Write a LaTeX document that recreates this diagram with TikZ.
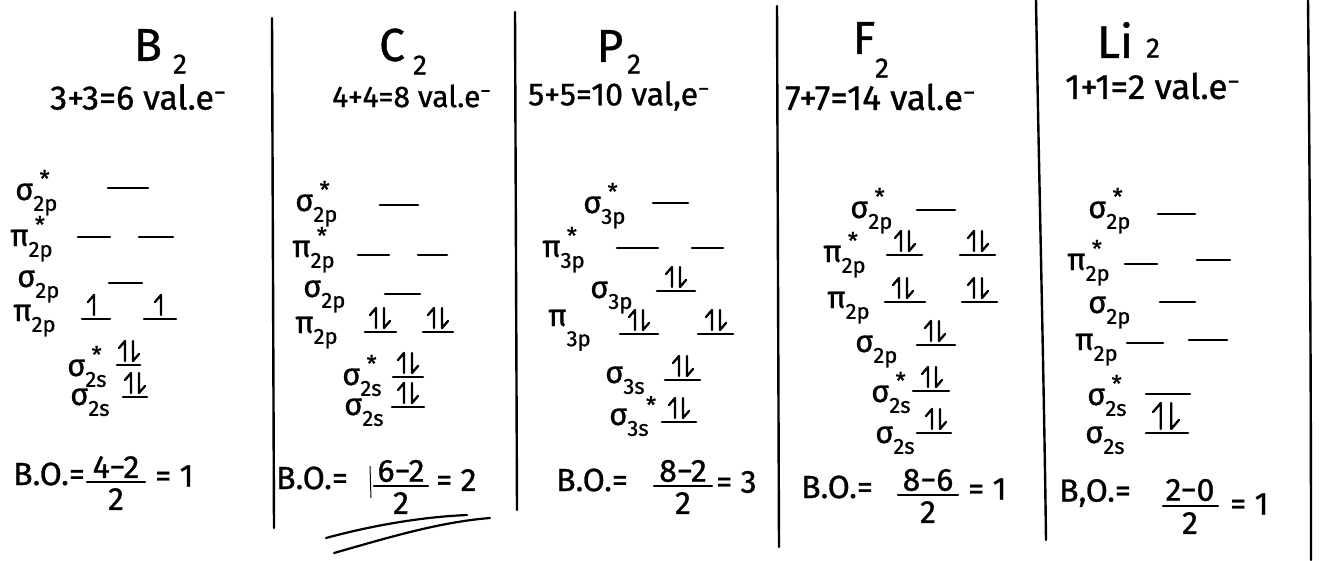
\documentclass[tikz,border=0pt]{standalone}
\usepackage{fontspec}
\setmainfont{Fira Sans}[UprightFeatures={FakeBold=0.9}]
\tikzset{
  lvl/.style={line width=2.6pt, line cap=round},
  elw/.style={line width=2.3pt, line cap=round, line join=round},
  sepline/.style={line width=2.4pt, line cap=round},
  ttl/.style={inner sep=0pt, font=\fontsize{46}{48}\selectfont},
  tsub/.style={inner sep=0pt, font=\fontsize{28}{30}\selectfont},
  val/.style={inner sep=0pt, anchor=west},
  lab/.style={inner sep=0pt, anchor=base west, font=\fontsize{31}{33}\selectfont},
  bo/.style={inner sep=0pt, font=\fontsize{32}{34}\selectfont},
  pair/.pic={
    \draw[elw] (-4,10) -- (-4,-10) -- (-10,-3);
    \draw[elw] (4,-10) -- (4,10) -- (10,3);
  },
  single/.pic={
    \draw[elw] (0,10) -- (0,-10) -- (-6,-3);
  },
}
\newcommand\myorb[3]{#1\makebox[0pt][l]{\hspace{0.2em}\raisebox{0.42em}{\fontsize{23}{23}\selectfont #2}}\raisebox{-0.35em}{\fontsize{22}{22}\selectfont #3}}
\newcommand\mylab[4]{\node[lab] (#1) at (#2,#3) {#4};}
\newcommand\mylev[3]{\draw[lvl] (#1,#3) -- (#2,#3);}
\newcommand\mypair[2]{\pic at (#1,#2-14) {pair};}
\newcommand\mysingle[2]{\pic at (#1,#2-14) {single};}
\newcommand\mybo[9]{%
  % #1 name, #2 text left x, #3 text y, #4 fraction centre x, #5 numerator, #6 bar y, #7 half bar width, #8 result, #9 result left x
  \node[bo, anchor=west] (#1a) at (#2,#3) {B.O.=};
  \node[bo] (#1n) at (#4,#6-15) {#5};
  \draw[lvl, line width=2.2pt] (#4-#7,#6) -- (#4+#7,#6);
  \node[bo] (#1d) at (#4,#6+17) {2};
  \node[bo, anchor=west] (#1r) at (#9,#3+2) {= #8};
}
\begin{document}
\begin{tikzpicture}[x=1pt,y=-1pt]
\useasboundingbox (0,0) rectangle (1319,560);
\fill[white] (0,0) rectangle (1319,560);

% separators
\draw[sepline] (272,18) -- (274,528);
\draw[sepline] (515,12) -- (517,510);
\draw[sepline] (777,6) -- (779,547);
\draw[sepline] (1036,0) .. controls (1039,180) and (1044,380) .. (1046,540);
\draw[sepline] (1308,0) .. controls (1310,200) and (1311,400) .. (1311,560);

% ---------------- B2 ----------------
\node[ttl] (B) at (148,45) {B};
\node[tsub] (B2) at (180,64) {2};
\node[val] (Bval) at (50,97) {\fontsize{34}{36}\selectfont 3+3=6 val.e\textsuperscript{−}};
\mylab{Bl1}{15}{200}{\myorb{σ}{*}{2p}}
\mylev{108}{148}{188}
\mylab{Bl2}{10}{246}{\myorb{π}{*}{2p}}
\mylev{78}{110}{237} \mylev{139}{173}{237}
\mylab{Bl3}{17}{287}{\myorb{σ}{}{2p}}
\mylev{109}{142}{283}
\mylab{Bl4}{13}{321}{\myorb{π}{}{2p}}
\mylev{82}{110}{319} \mylev{144}{176}{319}
\mysingle{94}{319} \mysingle{161}{319}
\mylab{Bl5}{67}{376}{\myorb{σ}{*}{2s}}
\mylev{117}{140}{365}
\mypair{129}{365}
\mylab{Bl6}{70}{405}{\myorb{σ}{}{2s}}
\mylev{123}{147}{397}
\mypair{135}{397}
\mybo{Bbo}{13}{474}{116}{4−2}{482}{29}{1}{155}

% ---------------- C2 ----------------
\node[ttl] (C) at (392,45) {C};
\node[tsub] (C2) at (420,65) {2};
\node[val] (Cval) at (332,96) {\fontsize{30}{32}\selectfont 4+4=8 val.e\textsuperscript{−}};
\mylab{Cl1}{295}{211}{\myorb{σ}{*}{2p}}
\mylev{380}{418}{205}
\mylab{Cl2}{292}{257}{\myorb{π}{*}{2p}}
\mylev{358}{389}{255} \mylev{418}{447}{255}
\mylab{Cl3}{303}{297}{\myorb{σ}{}{2p}}
\mylev{385}{420}{294}
\mylab{Cl4}{295}{333}{\myorb{π}{}{2p}}
\mylev{365}{396}{332} \mylev{423}{453}{332}
\mypair{380}{332} \mypair{438}{332}
\mylab{Cl5}{342}{385}{\myorb{σ}{*}{2s}}
\mylev{393}{423}{377}
\mypair{408}{377}
\mylab{Cl6}{344}{415}{\myorb{σ}{}{2s}}
\mylev{392}{424}{407}
\mypair{408}{407}
\mybo{Cbo}{276}{478}{401}{6−2}{486}{27}{2}{436}
\draw[line width=1pt] (370,466) -- (371,498);
\draw[lvl, line width=2.2pt] (326,538) .. controls (370,526) and (420,517) .. (467,515);
\draw[lvl, line width=2.2pt] (334,553) .. controls (390,537) and (440,522) .. (490,518);

% ---------------- P2 ----------------
\node[ttl] (P) at (610,46) {P};
\node[tsub] (P2) at (634,64) {2};
\node[val] (Pval) at (528,96) {\fontsize{32}{34}\selectfont 5+5=10 val,e\textsuperscript{−}};
\mylab{Pl1}{583}{213}{\myorb{σ}{*}{3p}}
\mylev{653}{688}{203}
\mylab{Pl2}{542}{257}{\myorb{π}{*}{3p}}
\mylev{617}{658}{248} \mylev{692}{723}{248}
\mylab{Pl3}{590}{298}{\myorb{σ}{}{3p}}
\mylev{657}{695}{291}
\mypair{676}{291}
\mylab{Pl4}{548}{326}{π\raisebox{-0.65em}{\fontsize{22}{22}\selectfont 3p}}
\mylev{620}{658}{334} \mylev{698}{733}{334}
\mypair{639}{334} \mypair{716}{334}
\mylab{Pl5}{605}{383}{\myorb{σ}{}{3s}}
\mylev{665}{700}{380}
\mypair{683}{380}
\mylab{Pl6}{609}{425}{σ\makebox[0pt][l]{\hspace{0.6em}\raisebox{0.38em}{\fontsize{23}{23}\selectfont *}}\raisebox{-0.35em}{\fontsize{22}{22}\selectfont 3s}}
\mylev{662}{696}{422}
\mypair{679}{422}
\mybo{Pbo}{556}{480}{683}{8−2}{486}{29}{3}{716}

% ---------------- F2 ----------------
\node[ttl] (F) at (864,38) {F};
\node[tsub] (F2) at (882,68) {2};
\node[val] (Fval) at (785,97) {\fontsize{35}{37}\selectfont 7+7=14 val.e\textsuperscript{−}};
\mylab{Fl1}{850}{218}{\myorb{σ}{*}{2p}}
\mylev{917}{955}{210}
\mylab{Fl2}{823}{262}{\myorb{π}{*}{2p}}
\mylev{887}{922}{255} \mylev{960}{995}{255}
\mypair{905}{255} \mypair{978}{255}
\mylab{Fl3}{827}{308}{\myorb{π}{}{2p}}
\mylev{885}{925}{302} \mylev{962}{997}{302}
\mypair{903}{302} \mypair{978}{302}
\mylab{Fl4}{855}{352}{\myorb{σ}{}{2p}}
\mylev{917}{955}{345}
\mypair{935}{345}
\mylab{Fl5}{871}{402}{\myorb{σ}{*}{2s}}
\mylev{913}{949}{391}
\mypair{932}{391}
\mylab{Fl6}{875}{443}{\myorb{σ}{}{2s}}
\mylev{917}{951}{433}
\mypair{936}{433}
\mybo{Fbo}{801}{487}{928}{8−6}{495}{30}{1}{968}

% ---------------- Li2 ----------------
\node[ttl] (L) at (1115,40) {Li};
\node[tsub] (L2) at (1153,48) {2};
\node[val] (Lval) at (1065,86) {\fontsize{35}{37}\selectfont 1+1=2 val.e\textsuperscript{−}};
\mylab{Ll1}{1088}{218}{\myorb{σ}{*}{2p}}
\mylev{1158}{1195}{214}
\mylab{Ll2}{1067}{270}{\myorb{π}{*}{2p}}
\mylev{1125}{1157}{264} \mylev{1197}{1230}{260}
\mylab{Ll3}{1088}{313}{\myorb{σ}{}{2p}}
\mylev{1160}{1195}{302}
\mylab{Ll4}{1075}{350}{\myorb{π}{}{2p}}
\mylev{1127}{1163}{343} \mylev{1189}{1227}{340}
\mylab{Ll5}{1087}{405}{\myorb{σ}{*}{2s}}
\mylev{1146}{1190}{394}
\mylab{Ll6}{1085}{443}{\myorb{σ}{}{2s}}
\mylev{1146}{1188}{433}
\pic[scale=1.3] at (1166,416) {pair};
\node[bo, anchor=west] (Lboa) at (1059,493) {B,O.=};
\node[bo] (Lbon) at (1190,490) {2−0};
\draw[lvl, line width=2.2pt] (1163,506) -- (1218,506);
\node[bo] (Lbod) at (1190,523) {2};
\node[bo, anchor=west] (Lbor) at (1230,504) {= 1};
\end{tikzpicture}
\end{document}
